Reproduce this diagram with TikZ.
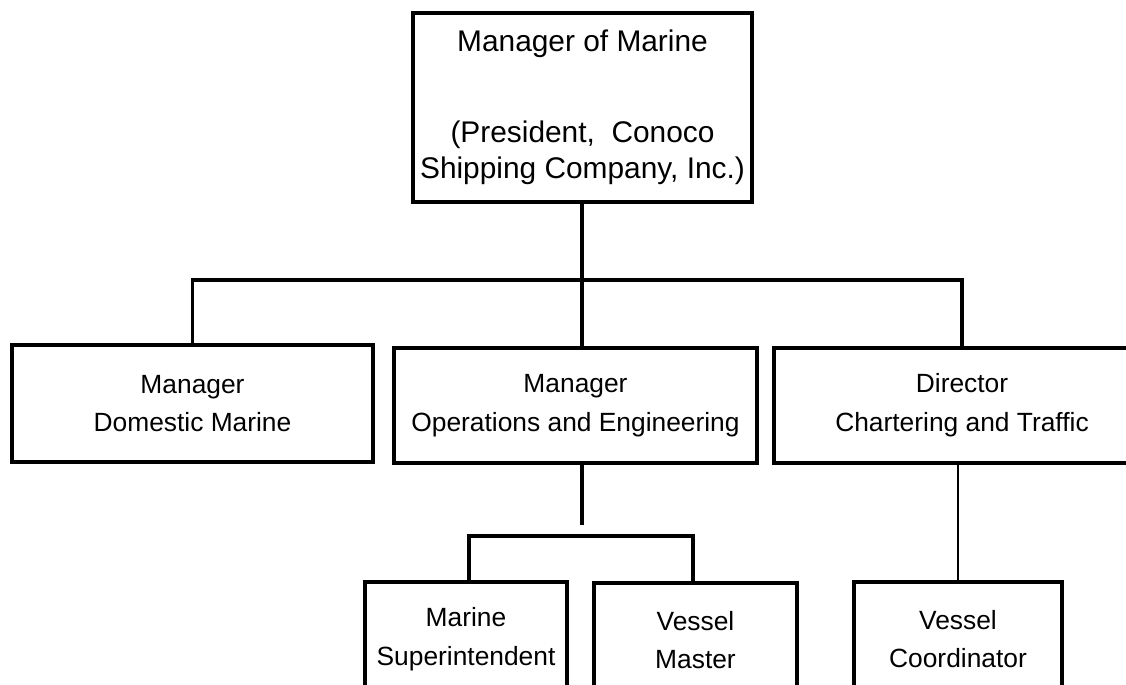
\documentclass[tikz,border=0pt]{standalone}
\usepackage{fontspec}
\setmainfont{Liberation Sans}

\begin{document}
\begin{tikzpicture}[x=0.02cm, y=-0.02cm,
		post/.style={draw, line width=2.2pt, align=center, inner sep=0pt, font=\fontsize{15}{22}\selectfont},
		link/.style={line width=2pt}]
				\useasboundingbox (0,0) rectangle (1126,684);
				\clip (0,0) rectangle (1126,684);
				\node[post, minimum width=6.78cm, minimum height=3.78cm, font=\fontsize{17}{20.5}\selectfont] (Marine) at (582.5,107.5) {Manager of Marine\\[1.1cm](President,~ Conoco\\Shipping Company, Inc.)};
				\node[post, minimum width=7.22cm, minimum height=2.34cm] (Domestic) at (192.5,403.5) {Manager\\Domestic Marine};
				\node[post, minimum width=7.26cm, minimum height=2.3cm] (OpsEng) at (575.5,405.5) {Manager\\Operations and Engineering};
				\node[post, minimum width=7.52cm, minimum height=2.3cm] (Chartering) at (962,405.5) {Director\\Chartering and Traffic};
				\node[post, minimum width=4.04cm, minimum height=2.28cm] (Super) at (466,639) {Marine\\Superintendent};
				\node[post, minimum width=4.06cm, minimum height=2.28cm] (Master) at (695.5,640) {Vessel\\Master};
				\node[post, minimum width=4.16cm, minimum height=2.28cm] (Coord) at (958,639) {Vessel\\Coordinator};
				% bus under the top box
				\coordinate (bus) at (582,280);
				\draw[link] (Marine.south -| bus) -- (bus);
				\draw[link] (Domestic.north) |- (bus) -| (Chartering.north);
				\draw[link] (bus) -- (bus |- OpsEng.north);
				% bracket over the two boxes at the bottom left
				\coordinate (gap) at (582,525);
				\coordinate (brkL) at (469,536);
				\coordinate (brkR) at (693,536);
				\draw[link] (OpsEng.south -| gap) -- (gap);
				\draw[link] (Super.north -| brkL) -- (brkL) -- (brkR) -- (Master.north -| brkR);
				\draw[line width=1.3pt] (Coord.north |- Chartering.south) -- (Coord.north);
			\end{tikzpicture}
\end{document}
